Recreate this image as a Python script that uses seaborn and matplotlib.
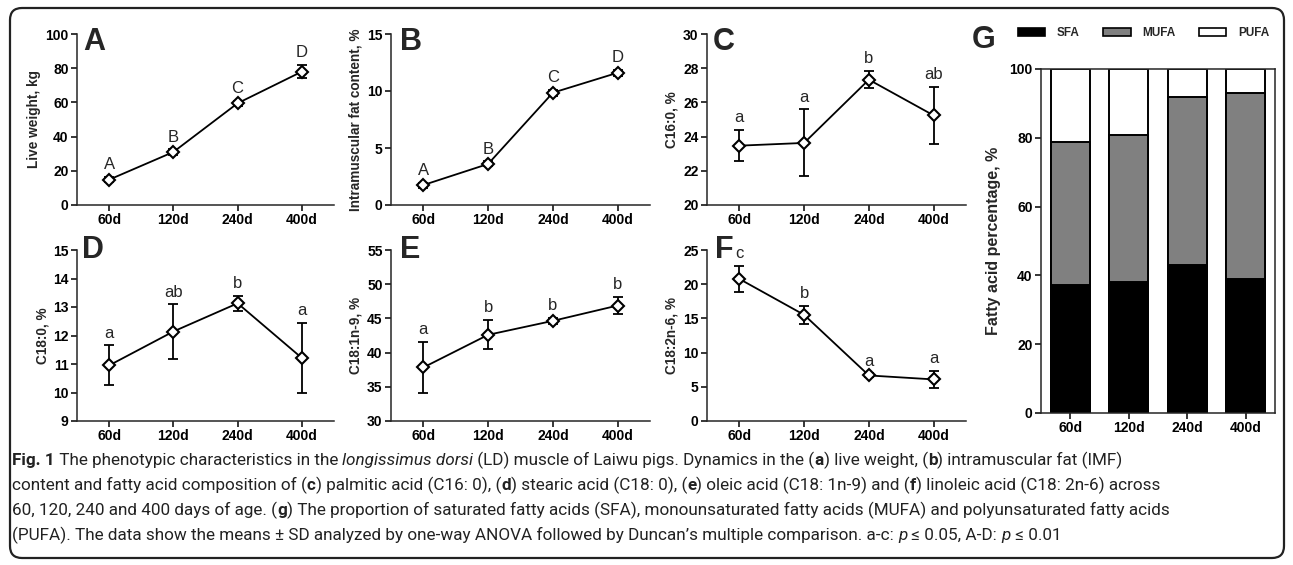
import numpy as np
import pandas as pd
import seaborn as sns
import matplotlib.pyplot as plt
from matplotlib.patches import FancyBboxPatch, Patch
from matplotlib.font_manager import FontProperties
from matplotlib.transforms import IdentityTransform

# data
AGES = ['60d', '120d', '240d', '400d']

live_weight = [14.8, 31.0, 59.5, 78.0]
live_weight_sd = [1.5, 1.5, 1.5, 3.9]
live_weight_sig = ['A', 'B', 'C', 'D']

imf = [1.75, 3.6, 9.85, 11.6]
imf_sd = [0.22, 0.22, 0.28, 0.28]
imf_sig = ['A', 'B', 'C', 'D']

c16 = [23.47, 23.63, 27.33, 25.24]
c16_sd = [0.92, 1.96, 0.50, 1.68]
c16_sig = ['a', 'a', 'b', 'ab']

c18 = [10.95, 12.14, 13.13, 11.21]
c18_sd = [0.70, 0.95, 0.27, 1.22]
c18_sig = ['a', 'ab', 'b', 'a']

c181 = [37.83, 42.60, 44.64, 46.88]
c181_sd = [3.75, 2.14, 0.45, 1.25]
c181_sig = ['a', 'b', 'b', 'b']

c182 = [20.77, 15.52, 6.66, 6.08]
c182_sd = [1.95, 1.30, 0.30, 1.25]
c182_sig = ['c', 'b', 'a', 'a']

sfa = [37.1, 38.1, 43.1, 39.0]
mufa = [41.8, 42.7, 48.7, 53.9]
pufa = [21.1, 19.2, 8.2, 7.1]

W, H = 1293, 565

sns.set_style('ticks')
plt.rcParams['font.family'] = ['Liberation Sans', 'DejaVu Sans']
plt.rcParams['axes.linewidth'] = 1.1

fig = plt.figure(figsize=(W / 100, H / 100), dpi=100)


def rect(left, right, top, bottom):
    return [left / W, 1 - bottom / H, (right - left) / W, (bottom - top) / H]


def style_axis(ax, size=10):
    ax.tick_params(direction='out', length=4, width=1.1, labelsize=size, pad=2, colors='black')
    for lbl in ax.get_xticklabels() + ax.get_yticklabels():
        lbl.set_fontweight('bold')


def line_panel(box, mean, sd, sig, ylim, yticks, ylabel):
    ax = fig.add_axes(rect(*box))
    df = pd.DataFrame({'age': AGES, 'mean': mean})
    sns.lineplot(data=df, x='age', y='mean', ax=ax, color='black', lw=1.3,
                 marker='D', markersize=6, markerfacecolor='white',
                 markeredgecolor='black', markeredgewidth=1.5, zorder=3)
    ax.errorbar(AGES, mean, yerr=sd, fmt='none', ecolor='black',
                elinewidth=1.3, capsize=3.5, capthick=1.3, zorder=2)
    for i, s in enumerate(sig):
        ax.annotate(s, (i, mean[i] + sd[i]), xytext=(0, 3.5), textcoords='offset points',
                    ha='center', va='bottom', fontsize=12)
    ax.set_xlim(-0.5, 3.5)
    ax.set_ylim(*ylim)
    ax.set_yticks(yticks)
    ax.set_xlabel('')
    ax.set_ylabel(ylabel, fontsize=9.8, fontweight='bold', labelpad=3)
    sns.despine(ax=ax)
    style_axis(ax)
    return ax


line_panel((77, 334, 34, 205), live_weight, live_weight_sd, live_weight_sig,
           (0, 100), range(0, 101, 20), 'Live weight, kg')
line_panel((391, 650, 34, 205), imf, imf_sd, imf_sig,
           (0, 15), [0, 5, 10, 15], 'Intramuscular fat content, %')
line_panel((707, 966, 34, 205), c16, c16_sd, c16_sig,
           (20, 30), range(20, 31, 2), 'C16:0, %')
line_panel((77, 334, 250, 421), c18, c18_sd, c18_sig,
           (9, 15), range(9, 16), 'C18:0, %')
line_panel((391, 650, 250, 421), c181, c181_sd, c181_sig,
           (30, 55), range(30, 56, 5), 'C18:1n-9, %')
line_panel((707, 966, 250, 421), c182, c182_sd, c182_sig,
           (0, 25), range(0, 26, 5), 'C18:2n-6, %')

# stacked bars (G)
axg = fig.add_axes(rect(1041, 1275, 69, 413))
sfa_a, mufa_a, pufa_a = np.array(sfa), np.array(mufa), np.array(pufa)
bar_kw = dict(ax=axg, edgecolor='black', linewidth=1.4, width=0.67, saturation=1, errorbar=None)
sns.barplot(x=AGES, y=sfa_a + mufa_a + pufa_a, color='white', **bar_kw)
sns.barplot(x=AGES, y=sfa_a + mufa_a, color='#808080', **bar_kw)
sns.barplot(x=AGES, y=sfa_a, color='black', **bar_kw)
axg.set_xlim(-0.5, 3.5)
axg.set_ylim(0, 100)
axg.set_yticks(range(0, 101, 20))
axg.set_ylabel('Fatty acid percentage, %', fontsize=11.5, fontweight='bold', labelpad=6)
style_axis(axg)

handles = [Patch(facecolor='black', edgecolor='black', lw=1.2, label='SFA'),
           Patch(facecolor='#808080', edgecolor='black', lw=1.2, label='MUFA'),
           Patch(facecolor='white', edgecolor='black', lw=1.2, label='PUFA')]
fig.legend(handles=handles, loc='center left', bbox_to_anchor=(1018 / W, 1 - 33 / H),
           ncol=3, frameon=False, borderpad=0, borderaxespad=0, handlelength=2.3,
           handleheight=0.6, handletextpad=1.0, columnspacing=2.0,
           prop=dict(size=8.5, weight='bold'))

# panel letters
for letter, x, y in [('A', 83, 50), ('B', 400, 50), ('C', 713, 50), ('D', 82, 258),
                     ('E', 400, 258), ('F', 715, 258), ('G', 972, 48)]:
    fig.text(x / W, 1 - y / H, letter, fontsize=22, fontweight='bold', va='baseline', ha='left')

# rounded frame
fig.patches.append(FancyBboxPatch((10, 7), 1274, 550, boxstyle='round,pad=0,rounding_size=12',
                                  transform=IdentityTransform(), facecolor='none',
                                  edgecolor='#222222', lw=1.6))

# caption, written run by run
CAP_FAMILY = ['Roboto', 'DejaVu Sans']
caption = [
    [('Fig. 1', 'bold', 'normal'),
     (' The phenotypic characteristics in the ', 'normal', 'normal'),
     ('longissimus dorsi', 'normal', 'italic'),
     (' (LD) muscle of Laiwu pigs. Dynamics in the (', 'normal', 'normal'),
     ('a', 'bold', 'normal'), (') live weight, (', 'normal', 'normal'),
     ('b', 'bold', 'normal'), (') intramuscular fat (IMF)', 'normal', 'normal')],
    [('content and fatty acid composition of (', 'normal', 'normal'),
     ('c', 'bold', 'normal'), (') palmitic acid (C16: 0), (', 'normal', 'normal'),
     ('d', 'bold', 'normal'), (') stearic acid (C18: 0), (', 'normal', 'normal'),
     ('e', 'bold', 'normal'), (') oleic acid (C18: 1n-9) and (', 'normal', 'normal'),
     ('f', 'bold', 'normal'), (') linoleic acid (C18: 2n-6) across', 'normal', 'normal')],
    [('60, 120, 240 and 400 days of age. (', 'normal', 'normal'),
     ('g', 'bold', 'normal'),
     (') The proportion of saturated fatty acids (SFA), monounsaturated fatty acids (MUFA) and polyunsaturated fatty acids',
      'normal', 'normal')],
    [('(PUFA). The data show the means \u00b1 SD analyzed by one-way ANOVA followed by Duncan\u2019s multiple comparison. a-c: ',
      'normal', 'normal'),
     ('p', 'normal', 'italic'), (' \u2264 0.05, A-D: ', 'normal', 'normal'),
     ('p', 'normal', 'italic'), (' \u2264 0.01', 'normal', 'normal')],
]

renderer = fig.canvas.get_renderer()


def run_width(text, size, weight, style):
    prop = FontProperties(family=CAP_FAMILY, size=size, weight=weight, style=style)
    w1, _, _ = renderer.get_text_width_height_descent('|' + text + '|', prop, ismath=False)
    w0, _, _ = renderer.get_text_width_height_descent('||', prop, ismath=False)
    return w1 - w0


# fit the size so the first line spans its width in the original
target = 1108
w_ref = sum(run_width(t, 12, wt, st) for t, wt, st in caption[0])
cap_size = 12 * target / w_ref

for line, base in zip(caption, [465, 490, 515, 540]):
    x = 12
    for text, wt, st in line:
        fig.text(x / W, 1 - base / H, text, fontsize=cap_size, fontweight=wt, fontstyle=st,
                 family=CAP_FAMILY, va='baseline', ha='left', color='#222222')
        x += run_width(text, cap_size, wt, st)

fig.savefig('out.png', dpi=100)
